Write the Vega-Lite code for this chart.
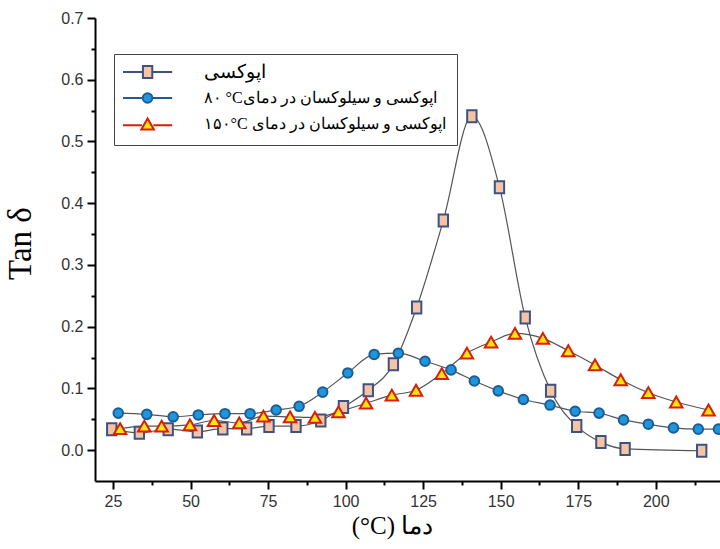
{
  "$schema": "https://vega.github.io/schema/vega-lite/v6.json",
  "width": 625,
  "height": 463,
  "autosize": {"type": "none"},
  "padding": {"left": 95, "top": 18, "right": 0, "bottom": 68},
  "background": "white",
  "config": {
    "view": {"stroke": null},
    "axis": {
      "grid": false,
      "domainColor": "black",
      "domainWidth": 2,
      "tickColor": "black",
      "tickWidth": 2,
      "labelFont": "Liberation Sans",
      "labelFontSize": 16,
      "labelColor": "#333333"
    },
    "legend": {
      "title": null,
      "orient": "none",
      "legendX": 19,
      "legendY": 36,
      "direction": "vertical",
      "strokeColor": "#444444",
      "fillColor": "white",
      "padding": 11,
      "symbolSize": 144,
      "symbolStrokeWidth": 2,
      "symbolOffset": 15.6,
      "labelOffset": 49,
      "labelFont": "Liberation Serif",
      "labelFontSize": 16,
      "labelColor": "black",
      "labelLimit": 400,
      "rowPadding": 7
    }
  },
  "data": {
    "values": [
      {"series": "epoxy", "T": 24.6, "tan": 0.034},
      {"series": "epoxy", "T": 33.5, "tan": 0.028},
      {"series": "epoxy", "T": 42.8, "tan": 0.034},
      {"series": "epoxy", "T": 52.2, "tan": 0.030},
      {"series": "epoxy", "T": 60.4, "tan": 0.035},
      {"series": "epoxy", "T": 68.1, "tan": 0.035},
      {"series": "epoxy", "T": 75.3, "tan": 0.039},
      {"series": "epoxy", "T": 84.0, "tan": 0.039},
      {"series": "epoxy", "T": 92.0, "tan": 0.048},
      {"series": "epoxy", "T": 99.3, "tan": 0.070},
      {"series": "epoxy", "T": 107.3, "tan": 0.097},
      {"series": "epoxy", "T": 115.4, "tan": 0.139},
      {"series": "epoxy", "T": 122.9, "tan": 0.231},
      {"series": "epoxy", "T": 131.5, "tan": 0.372},
      {"series": "epoxy", "T": 140.7, "tan": 0.541},
      {"series": "epoxy", "T": 149.6, "tan": 0.426},
      {"series": "epoxy", "T": 157.9, "tan": 0.215},
      {"series": "epoxy", "T": 166.1, "tan": 0.096},
      {"series": "epoxy", "T": 174.5, "tan": 0.039},
      {"series": "epoxy", "T": 182.3, "tan": 0.013},
      {"series": "epoxy", "T": 190.1, "tan": 0.002},
      {"series": "epoxy", "T": 214.8, "tan": -0.001},
      {"series": "es80", "T": 26.7, "tan": 0.060},
      {"series": "es80", "T": 35.9, "tan": 0.058},
      {"series": "es80", "T": 44.4, "tan": 0.054},
      {"series": "es80", "T": 52.5, "tan": 0.057},
      {"series": "es80", "T": 61.1, "tan": 0.059},
      {"series": "es80", "T": 69.2, "tan": 0.059},
      {"series": "es80", "T": 77.6, "tan": 0.065},
      {"series": "es80", "T": 85.0, "tan": 0.071},
      {"series": "es80", "T": 92.6, "tan": 0.094},
      {"series": "es80", "T": 100.7, "tan": 0.125},
      {"series": "es80", "T": 109.2, "tan": 0.155},
      {"series": "es80", "T": 117.0, "tan": 0.157},
      {"series": "es80", "T": 125.6, "tan": 0.144},
      {"series": "es80", "T": 134.0, "tan": 0.130},
      {"series": "es80", "T": 141.5, "tan": 0.112},
      {"series": "es80", "T": 149.2, "tan": 0.096},
      {"series": "es80", "T": 157.3, "tan": 0.082},
      {"series": "es80", "T": 165.9, "tan": 0.073},
      {"series": "es80", "T": 174.0, "tan": 0.063},
      {"series": "es80", "T": 181.7, "tan": 0.060},
      {"series": "es80", "T": 189.6, "tan": 0.049},
      {"series": "es80", "T": 197.6, "tan": 0.042},
      {"series": "es80", "T": 205.7, "tan": 0.036},
      {"series": "es80", "T": 213.7, "tan": 0.034},
      {"series": "es80", "T": 220.2, "tan": 0.034},
      {"series": "es150", "T": 27.3, "tan": 0.035},
      {"series": "es150", "T": 35.1, "tan": 0.039},
      {"series": "es150", "T": 40.7, "tan": 0.039},
      {"series": "es150", "T": 49.8, "tan": 0.041},
      {"series": "es150", "T": 57.6, "tan": 0.048},
      {"series": "es150", "T": 65.7, "tan": 0.044},
      {"series": "es150", "T": 73.5, "tan": 0.055},
      {"series": "es150", "T": 82.1, "tan": 0.054},
      {"series": "es150", "T": 90.1, "tan": 0.053},
      {"series": "es150", "T": 97.7, "tan": 0.062},
      {"series": "es150", "T": 106.6, "tan": 0.076},
      {"series": "es150", "T": 114.9, "tan": 0.089},
      {"series": "es150", "T": 122.7, "tan": 0.097},
      {"series": "es150", "T": 131.0, "tan": 0.124},
      {"series": "es150", "T": 139.1, "tan": 0.157},
      {"series": "es150", "T": 146.9, "tan": 0.175},
      {"series": "es150", "T": 154.6, "tan": 0.189},
      {"series": "es150", "T": 163.6, "tan": 0.181},
      {"series": "es150", "T": 171.8, "tan": 0.161},
      {"series": "es150", "T": 180.4, "tan": 0.138},
      {"series": "es150", "T": 188.7, "tan": 0.114},
      {"series": "es150", "T": 197.6, "tan": 0.093},
      {"series": "es150", "T": 206.6, "tan": 0.078},
      {"series": "es150", "T": 217.0, "tan": 0.065}
    ]
  },
  "encoding": {
    "x": {
      "field": "T",
      "type": "quantitative",
      "scale": {"domain": [19.2, 220.7], "nice": false, "zero": false},
      "axis": {
        "values": [25, 37.5, 50, 62.5, 75, 87.5, 100, 112.5, 125, 137.5, 150, 162.5, 175, 187.5, 200, 212.5],
        "labelExpr": "datum.value % 25 === 0 ? datum.label : ''",
        "tickSize": {"condition": {"test": "datum.value % 25 === 0", "value": 8}, "value": 4},
        "labelPadding": 4,
        "labelFlush": false,
        "title": "(°C) دما",
        "titleFont": "Liberation Serif",
        "titleFontSize": 25,
        "titleFontWeight": "normal",
        "titleColor": "black",
        "titleX": 297,
        "titleY": 52,
        "titleAlign": "center",
        "titleBaseline": "alphabetic"
      }
    },
    "y": {
      "field": "tan",
      "type": "quantitative",
      "scale": {"domain": [-0.05, 0.7], "nice": false, "zero": false},
      "axis": {
        "values": [0, 0.05, 0.1, 0.15, 0.2, 0.25, 0.3, 0.35, 0.4, 0.45, 0.5, 0.55, 0.6, 0.65, 0.7],
        "format": ".1f",
        "labelExpr": "round(datum.value * 100) % 10 === 0 ? datum.label : ''",
        "tickSize": {"condition": {"test": "round(datum.value * 100) % 10 === 0", "value": 8}, "value": 4},
        "labelPadding": 4,
        "labelFlush": false,
        "title": "Tan δ",
        "titleFont": "Liberation Serif",
        "titleFontSize": 33,
        "titleFontWeight": "normal",
        "titleColor": "black",
        "titleAngle": -90,
        "titleX": -65,
        "titleY": 225,
        "titleAlign": "center",
        "titleBaseline": "alphabetic"
      }
    }
  },
  "layer": [
    {
      "mark": {"type": "line", "interpolate": "monotone", "color": "#555555", "strokeWidth": 1.2},
      "encoding": {"detail": {"field": "series"}}
    },
    {
      "mark": {"type": "point", "filled": true, "strokeWidth": 2, "opacity": 1, "size": 144},
      "encoding": {
        "shape": {
          "field": "series",
          "type": "nominal",
          "scale": {
            "domain": ["es150", "es80", "epoxy"],
            "range": ["M0,-0.9L1.04,0.9L-1.04,0.9Z", "M-0.8,0A0.8,0.8 0 1,0 0.8,0A0.8,0.8 0 1,0 -0.8,0Z", "M-0.78,-1H0.78V1H-0.78Z"]
          },
          "legend": null
        },
        "fill": {
          "field": "series",
          "type": "nominal",
          "scale": {"domain": ["epoxy", "es80", "es150"], "range": ["#F5C4A6", "#1E96DC", "#FFE40F"]},
          "legend": {
            "labelExpr": "datum.value === 'epoxy' ? 'اپوکسی' : datum.value === 'es80' ? '۸۰ °Cاپوکسی و سیلوکسان در دمای' : '۱۵۰°C اپوکسی و سیلوکسان در دمای'",
            "encoding": {
              "symbols": {
                "shape": {
                  "condition": [
                    {"test": "datum.value === 'epoxy'", "value": "M-4.1,0H-0.78M0.78,0H4.1M-0.78,-1H0.78V1H-0.78Z"},
                    {"test": "datum.value === 'es80'", "value": "M-4.1,0H-0.8M0.8,0H4.1M-0.8,0A0.8,0.8 0 1,0 0.8,0A0.8,0.8 0 1,0 -0.8,0Z"}
                  ],
                  "value": "M-4.1,0.2H-0.95M0.95,0.2H4.1M0,-0.9L1.04,0.9L-1.04,0.9Z"
                }
              },
              "labels": {
                "fontSize": {"condition": {"test": "datum.value === 'epoxy'", "value": 19}, "value": 16}
              }
            }
          }
        },
        "stroke": {
          "field": "series",
          "type": "nominal",
          "scale": {"domain": ["epoxy", "es80", "es150"], "range": ["#3E5282", "#1D5C96", "#D81E06"]},
          "legend": {
            "labelExpr": "datum.value === 'epoxy' ? 'اپوکسی' : datum.value === 'es80' ? '۸۰ °Cاپوکسی و سیلوکسان در دمای' : '۱۵۰°C اپوکسی و سیلوکسان در دمای'",
            "encoding": {
              "symbols": {
                "shape": {
                  "condition": [
                    {"test": "datum.value === 'epoxy'", "value": "M-4.1,0H-0.78M0.78,0H4.1M-0.78,-1H0.78V1H-0.78Z"},
                    {"test": "datum.value === 'es80'", "value": "M-4.1,0H-0.8M0.8,0H4.1M-0.8,0A0.8,0.8 0 1,0 0.8,0A0.8,0.8 0 1,0 -0.8,0Z"}
                  ],
                  "value": "M-4.1,0.2H-0.95M0.95,0.2H4.1M0,-0.9L1.04,0.9L-1.04,0.9Z"
                }
              },
              "labels": {
                "fontSize": {"condition": {"test": "datum.value === 'epoxy'", "value": 19}, "value": 16}
              }
            }
          }
        }
      }
    }
  ]
}
